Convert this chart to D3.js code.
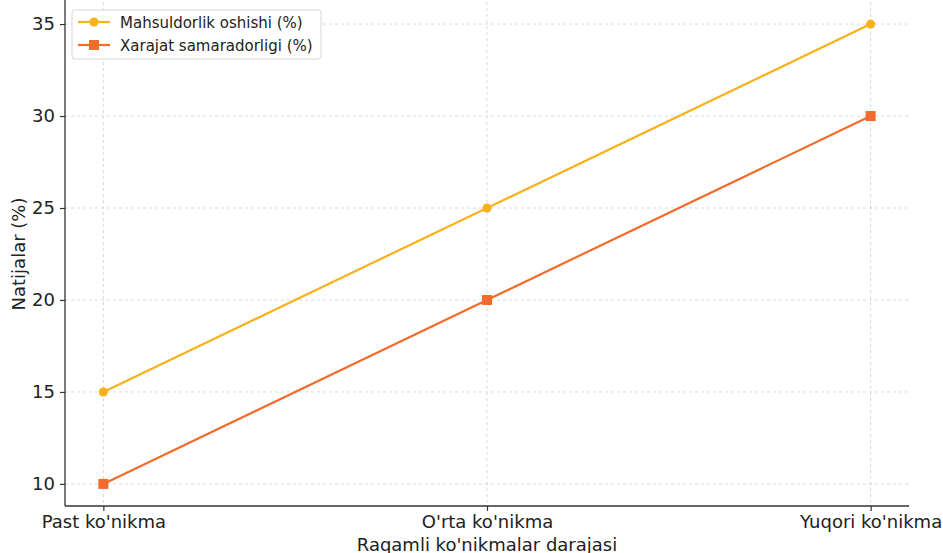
<!DOCTYPE html>
<html><head><meta charset="utf-8">
<script src="https://cdn.jsdelivr.net/npm/d3@7"></script>
<style>body{margin:0;background:#fff}svg{display:block}text{font-family:"DejaVu Sans",sans-serif;fill:#222}</style>
</head><body><svg id="c" width="943" height="553"></svg>
<script>
const categories = ["Past ko'nikma", "O'rta ko'nikma", "Yuqori ko'nikma"];
const seriesNames = ["Mahsuldorlik oshishi (%)", "Xarajat samaradorligi (%)"];
const productivity = [15, 25, 35];
const costEfficiency = [10, 20, 30];
const yTicks = [10, 15, 20, 25, 30, 35];
const colors = ["#F9B11A", "#F26B2A"];
const xLabel = "Raqamli ko'nikmalar darajasi";
const yLabel = "Natijalar (%)";

const svg = d3.select("#c");
const L = 65, R = 909, T = 2, B = 506;
const x = d3.scaleLinear().domain([-0.1, 2.1]).range([L, R]);
const y = d3.scaleLinear().domain([8.8, 36.2]).range([B, T]);

// grid
const g = svg.append("g");
g.selectAll(".gx").data(categories).enter().append("line")
  .attr("x1",(d,i)=>x(i)).attr("x2",(d,i)=>x(i)).attr("y1",T).attr("y2",B)
  .attr("stroke","#cfcfcf").attr("stroke-width",0.8).attr("stroke-dasharray","3,3");
g.selectAll(".gy").data(yTicks).enter().append("line")
  .attr("x1",L).attr("x2",R).attr("y1",d=>y(d)).attr("y2",d=>y(d))
  .attr("stroke","#cfcfcf").attr("stroke-width",0.8).attr("stroke-dasharray","3,3");

// axes
const xAxis = d3.axisBottom(x).tickValues([0,1,2]).tickFormat(i=>categories[i]).tickSize(5).tickPadding(4);
const yAxis = d3.axisLeft(y).tickValues(yTicks).tickSize(5).tickPadding(5);
const ax = svg.append("g").attr("transform",`translate(0,${B})`).call(xAxis);
const ay = svg.append("g").attr("transform",`translate(${L},0)`).call(yAxis);
[ax, ay].forEach(a=>{
  a.select(".domain").remove();
  a.selectAll("line").attr("stroke","#333").attr("stroke-width",1.2);
  a.selectAll("text").attr("font-size",18).attr("fill","#222").style("font-family","'DejaVu Sans',sans-serif");
});
svg.append("line").attr("x1",L).attr("x2",R).attr("y1",B).attr("y2",B).attr("stroke","#333").attr("stroke-width",1.3);
svg.append("line").attr("x1",L).attr("x2",L).attr("y1",T-5).attr("y2",B).attr("stroke","#333").attr("stroke-width",1.3);

// labels
svg.append("text").attr("x",(L+R)/2).attr("y",551).attr("text-anchor","middle").attr("font-size",18).text(xLabel);
svg.append("text").attr("transform",`translate(25,${(T+B)/2}) rotate(-90)`).attr("text-anchor","middle").attr("font-size",18).text(yLabel);

// lines
const data = [productivity, costEfficiency];
const line = d3.line().x((d,i)=>x(i)).y(d=>y(d));
data.forEach((s,k)=>{
  svg.append("path").datum(s).attr("d",line).attr("fill","none").attr("stroke",colors[k]).attr("stroke-width",2.2);
  if(k===0){
    svg.selectAll(".m0").data(s).enter().append("circle").attr("cx",(d,i)=>x(i)).attr("cy",d=>y(d)).attr("r",4.5).attr("fill",colors[k]);
  } else {
    svg.selectAll(".m1").data(s).enter().append("rect").attr("x",(d,i)=>x(i)-5).attr("y",d=>y(d)-5).attr("width",10).attr("height",10).attr("fill",colors[k]);
  }
});

// legend
const lg = svg.append("g");
lg.append("rect").attr("x",72).attr("y",10).attr("width",249).attr("height",49).attr("rx",3)
  .attr("fill","#fff").attr("fill-opacity",0.85).attr("stroke","#d6d6d6").attr("stroke-width",1);
seriesNames.forEach((n,k)=>{
  const yy = 22 + k*23;
  lg.append("line").attr("x1",78).attr("x2",110).attr("y1",yy).attr("y2",yy).attr("stroke",colors[k]).attr("stroke-width",2.2);
  if(k===0) lg.append("circle").attr("cx",94).attr("cy",yy).attr("r",4.5).attr("fill",colors[k]);
  else lg.append("rect").attr("x",89).attr("y",yy-5).attr("width",10).attr("height",10).attr("fill",colors[k]);
  lg.append("text").attr("x",120).attr("y",yy+5.5).attr("font-size",15).attr("fill","#333").text(n);
});
</script></body></html>
